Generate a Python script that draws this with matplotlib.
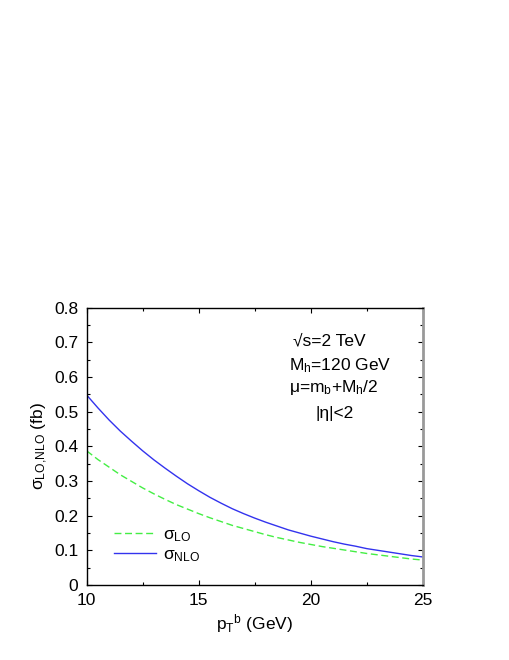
import matplotlib
matplotlib.use("Agg")
import matplotlib.pyplot as plt
import numpy as np

plt.rcParams['font.family'] = ['Liberation Sans', 'DejaVu Sans']
plt.rcParams['mathtext.fontset'] = 'custom'
plt.rcParams['mathtext.rm'] = 'Liberation Sans'
plt.rcParams['mathtext.it'] = 'Liberation Sans'

# data (pT in GeV, sigma in fb)
pt = [10, 10.5, 11, 11.5, 12, 12.5, 13, 13.5, 14, 14.5, 15, 15.5, 16, 16.5,
      17, 17.5, 18, 18.5, 19, 19.5, 20, 20.5, 21, 21.5, 22, 22.5, 23, 23.5,
      24, 24.5, 25]
sigma_lo = [0.387, 0.362, 0.340, 0.318, 0.299, 0.280, 0.263, 0.247, 0.232,
            0.219, 0.206, 0.194, 0.183, 0.172, 0.163, 0.154, 0.145, 0.137,
            0.130, 0.123, 0.117, 0.111, 0.106, 0.101, 0.096, 0.091, 0.087,
            0.083, 0.079, 0.075, 0.072]
sigma_nlo = [0.548, 0.511, 0.476, 0.444, 0.415, 0.387, 0.361, 0.337, 0.314,
             0.292, 0.272, 0.253, 0.236, 0.220, 0.206, 0.193, 0.181, 0.170,
             0.159, 0.150, 0.141, 0.133, 0.125, 0.118, 0.112, 0.105, 0.100,
             0.095, 0.090, 0.085, 0.081]
info_lines = ["√s=2 TeV", r"M$_\mathregular{h}$=120 GeV",
              r"μ=m$_\mathregular{b}$+M$_\mathregular{h}$/2", "|η|<2"]

FS = 12.5

fig = plt.figure(figsize=(5.1, 6.6), dpi=100)
ax = fig.add_axes([0.170, 0.1136, 0.659, 0.4202])

ax.plot(pt, sigma_lo, color='#44ee44', lw=1.0, dashes=(5, 2.6),
        label=r"$\mathregular{σ_{LO}}$")
ax.plot(pt, sigma_nlo, color='#3333ee', lw=1.0,
        label=r"$\mathregular{σ_{NLO}}$")

ax.set_xlim(10, 25)
ax.set_ylim(0, 0.8)
ax.set_xticks([10, 15, 20, 25])
ax.set_xticks([12.5, 17.5, 22.5], minor=True)
ax.set_yticks(np.arange(0, 0.81, 0.1))
ax.set_yticks(np.arange(0.05, 0.8, 0.1), minor=True)
ax.set_yticklabels(["0", "0.1", "0.2", "0.3", "0.4", "0.5", "0.6", "0.7", "0.8"])
ax.tick_params(which='both', direction='in', top=True, right=True,
               labelsize=FS, pad=6)
ax.tick_params(which='major', length=3.5, width=0.8)
ax.tick_params(which='minor', length=2, width=0.8)
for s in ['left', 'bottom', 'top']:
    ax.spines[s].set_linewidth(1.0)
ax.spines['right'].set_color('#999999')
ax.spines['right'].set_linewidth(2.0)

ax.set_xlabel(r"p$_\mathregular{T}$$^\mathregular{  b}$ (GeV)", fontsize=FS, labelpad=3)
ax.set_ylabel(r"$\mathregular{σ_{LO{,}NLO}}$ (fb)", fontsize=FS, labelpad=3)

# annotation block
xs = [19.21, 19.03, 19.03, 20.19]
ys = [0.704, 0.632, 0.571, 0.496]
for x, y, t in zip(xs, ys, info_lines):
    ax.text(x, y, t, fontsize=FS, ha='left', va='center')

ax.legend(loc='upper left', bbox_to_anchor=(0.04, 0.26), frameon=False,
          fontsize=FS, handlelength=2.4, handletextpad=0.4,
          labelspacing=0.2, borderpad=0.3)

fig.savefig("out.png", dpi=100)
